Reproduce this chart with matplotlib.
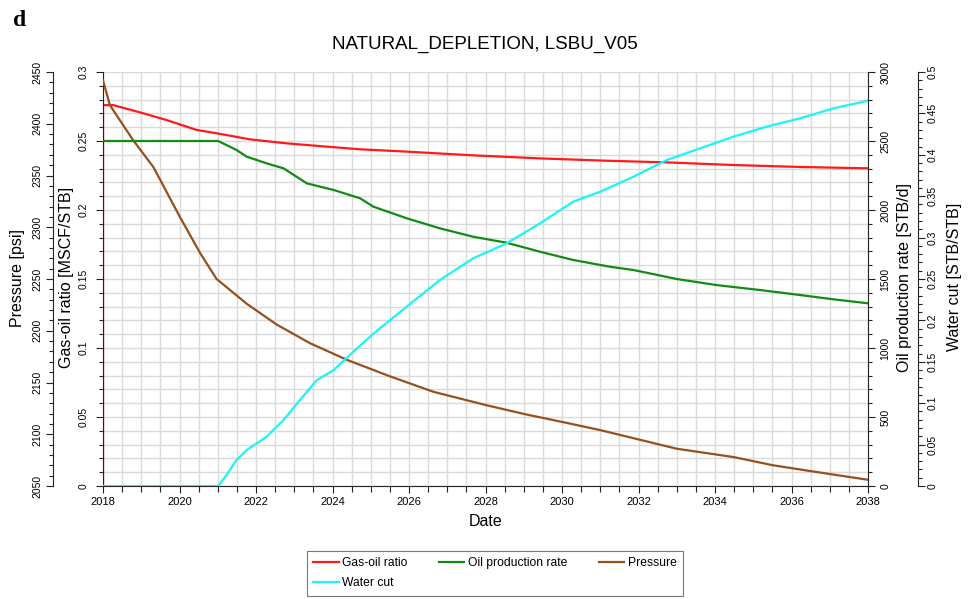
import numpy as np
import matplotlib
matplotlib.use("Agg")
import matplotlib.pyplot as plt
from matplotlib.ticker import MultipleLocator

plt.rcParams["font.family"] = ["Liberation Sans", "DejaVu Sans"]

# values (decimal years)
gor_year = [2018.0, 2018.0, 2018.27, 2019.05, 2019.66, 2020.45, 2020.97, 2021.84, 2022.8,
            2023.85, 2024.72, 2025.94, 2027.68, 2029.42, 2031.17, 2032.74, 2034.48, 2036.22, 2038.0]
gor = [0.0, 0.276, 0.276, 0.2701, 0.2652, 0.258, 0.2556, 0.2512, 0.2483,
       0.2459, 0.244, 0.2423, 0.2396, 0.2374, 0.2357, 0.2345, 0.2326, 0.2312, 0.2302]

oil_year = [2018.0, 2021.01, 2021.49, 2021.76, 2022.28, 2022.72, 2023.33, 2024.03, 2024.72,
            2025.07, 2025.94, 2026.81, 2027.68, 2028.55, 2029.42, 2030.29, 2031.25, 2031.87,
            2033.0, 2034.04, 2035.18, 2036.22, 2037.09, 2038.0]
oil_rate = [2500, 2500, 2435, 2386, 2338, 2302, 2193, 2145, 2085,
            2024, 1940, 1867, 1806, 1763, 1698, 1638, 1589, 1565,
            1500, 1456, 1420, 1384, 1353, 1324]

p_year = [2018.0, 2018.18, 2018.79, 2019.32, 2020.01, 2020.54, 2020.97, 2021.76, 2022.54,
          2023.41, 2024.37, 2025.5, 2026.64, 2028.03, 2029.08, 2030.12, 2031.0, 2033.0,
          2034.48, 2035.52, 2036.57, 2038.0]
pressure = [2442, 2418, 2384, 2358, 2310, 2275, 2250, 2226, 2206,
            2188, 2172, 2156, 2141, 2128, 2119, 2111, 2104, 2086,
            2078, 2070, 2064, 2056]

wc_year = [2018.0, 2021.01, 2021.23, 2021.49, 2021.76, 2022.28, 2022.72, 2023.15, 2023.59,
           2024.03, 2024.54, 2025.07, 2025.94, 2026.81, 2027.68, 2028.55, 2029.42, 2030.29,
           2031.0, 2031.87, 2032.74, 2033.61, 2034.48, 2035.35, 2036.22, 2037.09, 2038.0]
water_cut = [0.0, 0.0, 0.0133, 0.0314, 0.0435, 0.0596, 0.0797, 0.1039, 0.128,
             0.140, 0.162, 0.184, 0.2166, 0.2488, 0.275, 0.293, 0.317, 0.3434,
             0.3554, 0.3736, 0.3937, 0.4078, 0.4219, 0.434, 0.444, 0.456, 0.4653]

W, H = 973, 599
fig = plt.figure(figsize=(W / 100, H / 100), dpi=100)
ax = fig.add_axes([103 / W, 1 - 486 / H, 765 / W, 414 / H])
ax_p = ax.twinx()
ax_r = ax.twinx()
ax_w = ax.twinx()

spine_col = "#222222"
tick_kw = dict(direction="out", colors=spine_col, labelcolor="black", width=0.8)
ysize = 7.5

# main axis: gas-oil ratio + grid
ax.set_xlim(2018, 2038)
ax.set_ylim(0, 0.3)
ax.xaxis.set_major_locator(MultipleLocator(2))
ax.xaxis.set_minor_locator(MultipleLocator(0.5))
ax.yaxis.set_minor_locator(MultipleLocator(0.01))
ax.set_xticklabels([str(int(v)) for v in ax.get_xticks()])
ax.set_yticks(np.arange(0, 0.301, 0.05))
ax.set_yticklabels(["0", "0.05", "0.1", "0.15", "0.2", "0.25", "0.3"])
ax.grid(which="both", color="#dadada", linewidth=1.0)
ax.set_axisbelow(True)
ax.tick_params(axis="x", which="major", length=5, pad=3, labelsize=8, **tick_kw)
ax.tick_params(axis="x", which="minor", length=4, **tick_kw)
ax.tick_params(axis="y", which="major", length=5, pad=5, labelsize=ysize, labelrotation=90, **tick_kw)
ax.tick_params(axis="y", which="minor", length=3, **tick_kw)
for s in ["top", "right"]:
    ax.spines[s].set_visible(False)
for s in ["left", "bottom"]:
    ax.spines[s].set_color(spine_col)

# pressure axis, outer left
ax_p.set_ylim(2050, 2450)
ax_p.yaxis.set_ticks_position("left")
ax_p.yaxis.set_label_position("left")
ax_p.spines["left"].set_position(("outward", 36))
ax_p.yaxis.set_major_locator(MultipleLocator(50))
ax_p.yaxis.set_minor_locator(MultipleLocator(10))

# oil rate, inner right
ax_r.set_ylim(0, 3000)
ax_r.yaxis.set_major_locator(MultipleLocator(500))
ax_r.yaxis.set_minor_locator(MultipleLocator(100))

# water cut, outer right
ax_w.set_ylim(0, 0.5)
ax_w.spines["right"].set_position(("outward", 36))
ax_w.set_yticks(np.arange(0, 0.501, 0.05))
ax_w.set_yticklabels(["0", "0.05", "0.1", "0.15", "0.2", "0.25", "0.3", "0.35", "0.4", "0.45", "0.5"])
ax_w.yaxis.set_minor_locator(MultipleLocator(0.01))

for a, side, pad in [(ax_p, "left", 2.5), (ax_r, "right", 4), (ax_w, "right", 2.2)]:
    for s in ["top", "bottom", "left", "right"]:
        a.spines[s].set_visible(s == side)
    a.spines[side].set_color(spine_col)
    a.tick_params(axis="y", which="major", length=5, pad=pad, labelsize=ysize, labelrotation=90, **tick_kw)
    a.tick_params(axis="y", which="minor", length=3, **tick_kw)

for a in [ax, ax_p, ax_r, ax_w]:
    plt.setp(a.get_yticklabels(), va="center")

l_gor, = ax.plot(gor_year, gor, color="#ff1a1a", lw=1.6, label="Gas-oil ratio")
l_oil, = ax_r.plot(oil_year, oil_rate, color="#138a13", lw=1.6, label="Oil production rate")
l_p, = ax_p.plot(p_year, pressure, color="#96501e", lw=1.6, label="Pressure")
l_wc, = ax_w.plot(wc_year, water_cut, color="#1af5f5", lw=1.6, label="Water cut")

for a in [ax, ax_p, ax_r, ax_w]:
    a.set_xlim(2018, 2038)

# labels
fig.text(18 / W, 1 - 278 / H, "Pressure [psi]", rotation=90, ha="center", va="center", fontsize=11.5)
fig.text(67 / W, 1 - 277 / H, "Gas-oil ratio [MSCF/STB]", rotation=90, ha="center", va="center", fontsize=11.5)
fig.text(905 / W, 1 - 278 / H, "Oil production rate [STB/d]", rotation=90, ha="center", va="center", fontsize=11.5)
fig.text(954 / W, 1 - 277 / H, "Water cut [STB/STB]", rotation=90, ha="center", va="center", fontsize=11.5)
fig.text(486 / W, 1 - 522 / H, "Date", ha="center", va="center", fontsize=11.5)
fig.text(485 / W, 1 - 44 / H, "NATURAL_DEPLETION, LSBU_V05", ha="center", va="center", fontsize=13.5)
fig.text(20 / W, 1 - 21 / H, "d", ha="center", va="center", fontsize=17, fontweight="bold",
         family="Liberation Serif")

leg = fig.legend([l_gor, l_wc, l_oil, l_p],
                 ["Gas-oil ratio", "Water cut", "Oil production rate", "Pressure"],
                 ncol=3, loc="upper center", bbox_to_anchor=(495 / W, 1 - 547 / H),
                 fontsize=8.7, frameon=True, fancybox=False, edgecolor="#555555",
                 handlelength=2.1, handletextpad=0.3, columnspacing=2.6, labelspacing=0.65,
                 borderpad=0.55, borderaxespad=0.3)
leg.get_frame().set_linewidth(0.8)

fig.savefig("out.png", dpi=100)
